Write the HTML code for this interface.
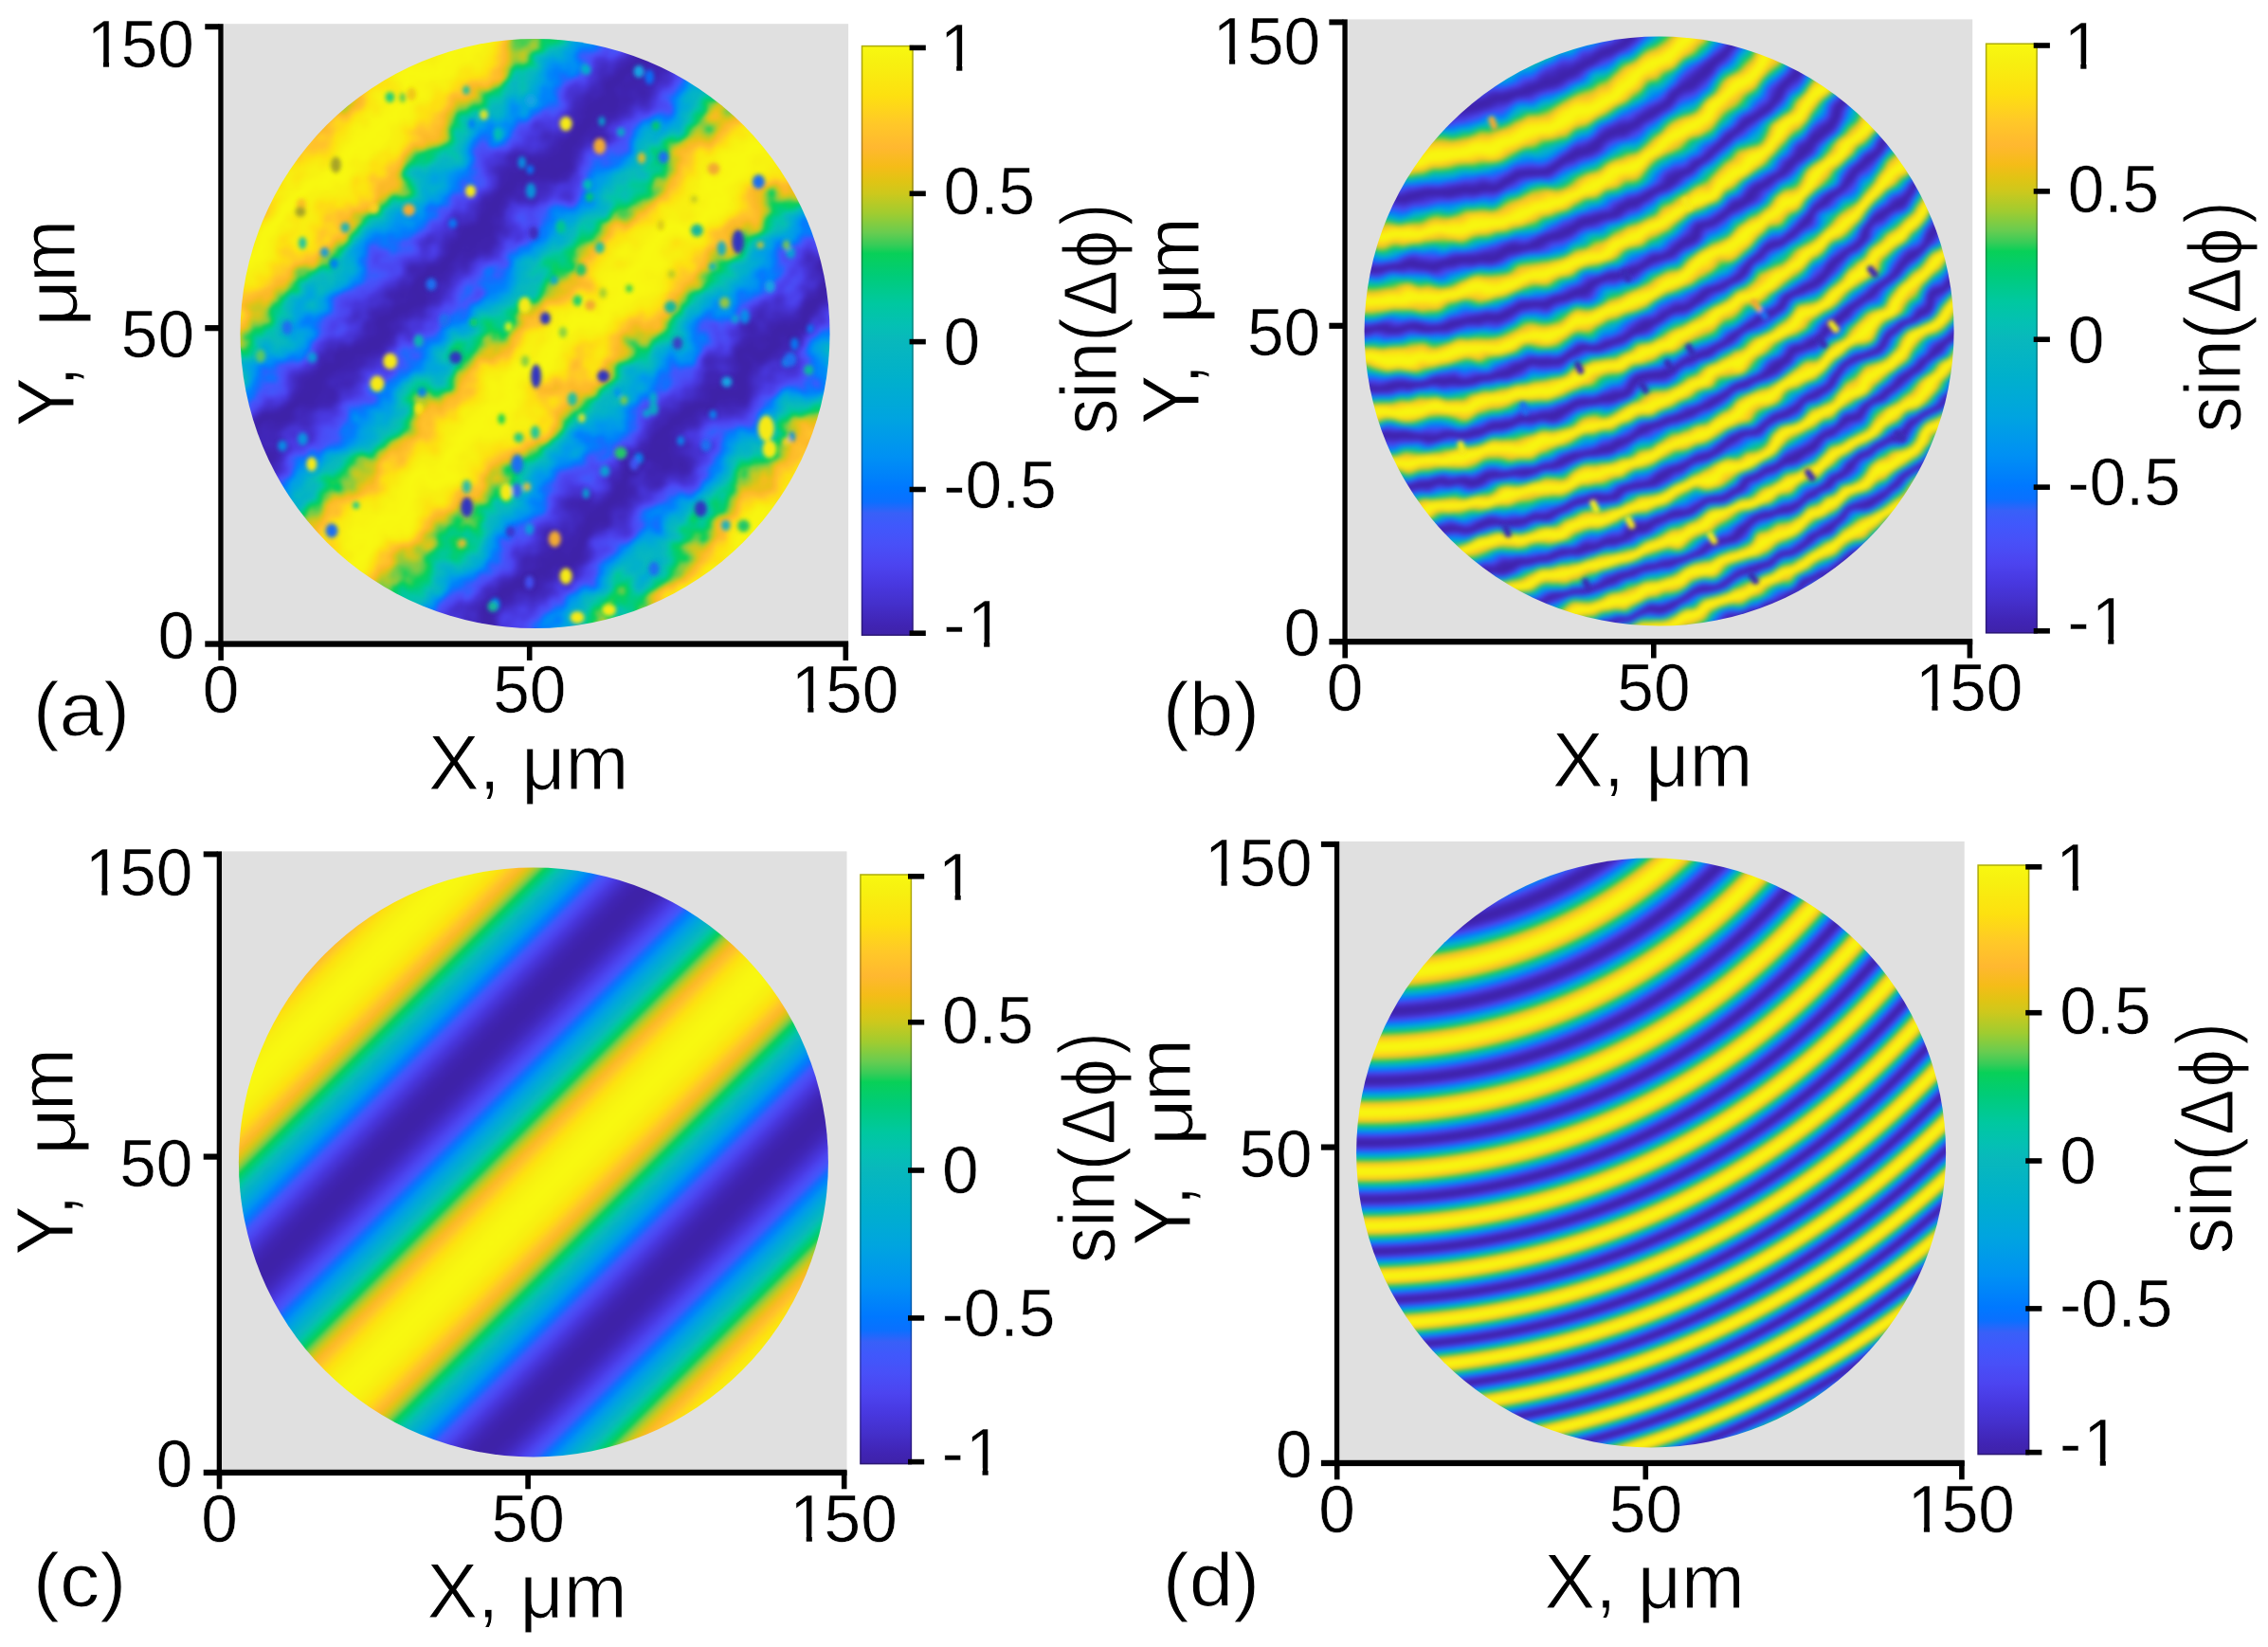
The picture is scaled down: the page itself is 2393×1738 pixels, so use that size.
<!DOCTYPE html>
<html><head><meta charset="utf-8"><title>fig</title>
<style>html,body{margin:0;padding:0;background:#fff;overflow:hidden}svg{display:block;filter:blur(0.6px)}text{font-family:'Liberation Sans', sans-serif;fill:#000;font-kerning:normal}</style>
</head><body>
<svg width="2393" height="1738" viewBox="0 0 2393 1738">
<defs>
<linearGradient id="cb" x1="0" y1="0" x2="0" y2="1"><stop offset="0.0000" stop-color="#f8f810"/><stop offset="0.0300" stop-color="#f7f010"/><stop offset="0.0850" stop-color="#fde010"/><stop offset="0.1325" stop-color="#ffc828"/><stop offset="0.1725" stop-color="#ffb830"/><stop offset="0.2050" stop-color="#f5bc18"/><stop offset="0.2300" stop-color="#e0c414"/><stop offset="0.2500" stop-color="#cec81c"/><stop offset="0.2850" stop-color="#a0cc30"/><stop offset="0.3175" stop-color="#68cc50"/><stop offset="0.3375" stop-color="#38cc58"/><stop offset="0.3525" stop-color="#08d058"/><stop offset="0.3900" stop-color="#00cc78"/><stop offset="0.4375" stop-color="#00c8a0"/><stop offset="0.4750" stop-color="#04c0b4"/><stop offset="0.5000" stop-color="#08b8bc"/><stop offset="0.5650" stop-color="#00b0cc"/><stop offset="0.6320" stop-color="#00a4e0"/><stop offset="0.6980" stop-color="#0090f4"/><stop offset="0.7500" stop-color="#0078ff"/><stop offset="0.7725" stop-color="#0a70ff"/><stop offset="0.7925" stop-color="#3860f8"/><stop offset="0.8150" stop-color="#4058fc"/><stop offset="0.8450" stop-color="#4850f8"/><stop offset="0.8800" stop-color="#4c44f0"/><stop offset="0.9130" stop-color="#4838e0"/><stop offset="0.9450" stop-color="#4430cc"/><stop offset="0.9800" stop-color="#4024b4"/><stop offset="1.0000" stop-color="#3e22a8"/></linearGradient>
<linearGradient id="ga" gradientUnits="userSpaceOnUse" x1="478.85" y1="478.85" x2="691.34" y2="691.34" spreadMethod="repeat"><stop offset="0.0000" stop-color="#f8f810"/><stop offset="0.0156" stop-color="#f8f710"/><stop offset="0.0312" stop-color="#f8f510"/><stop offset="0.0469" stop-color="#f7f210"/><stop offset="0.0625" stop-color="#f8ee10"/><stop offset="0.0781" stop-color="#fae810"/><stop offset="0.0938" stop-color="#fde010"/><stop offset="0.1094" stop-color="#fed21e"/><stop offset="0.1250" stop-color="#ffc22b"/><stop offset="0.1406" stop-color="#fcb928"/><stop offset="0.1562" stop-color="#e7c215"/><stop offset="0.1719" stop-color="#bbca24"/><stop offset="0.1875" stop-color="#77cc47"/><stop offset="0.2031" stop-color="#07d05a"/><stop offset="0.2188" stop-color="#00cb82"/><stop offset="0.2344" stop-color="#01c5a7"/><stop offset="0.2500" stop-color="#08b8bc"/><stop offset="0.2656" stop-color="#02b2c8"/><stop offset="0.2812" stop-color="#00aad6"/><stop offset="0.2969" stop-color="#00a0e4"/><stop offset="0.3125" stop-color="#0092f2"/><stop offset="0.3281" stop-color="#007ffc"/><stop offset="0.3438" stop-color="#166cfd"/><stop offset="0.3594" stop-color="#4157fc"/><stop offset="0.3750" stop-color="#494df6"/><stop offset="0.3906" stop-color="#4b42ed"/><stop offset="0.4062" stop-color="#4837de"/><stop offset="0.4219" stop-color="#4531cf"/><stop offset="0.4375" stop-color="#422ac0"/><stop offset="0.4531" stop-color="#4025b5"/><stop offset="0.4688" stop-color="#3f23ae"/><stop offset="0.4844" stop-color="#3e22a9"/><stop offset="0.5000" stop-color="#3e22a8"/><stop offset="0.5156" stop-color="#3e22a9"/><stop offset="0.5312" stop-color="#3f23ae"/><stop offset="0.5469" stop-color="#4025b5"/><stop offset="0.5625" stop-color="#422ac0"/><stop offset="0.5781" stop-color="#4531cf"/><stop offset="0.5938" stop-color="#4837de"/><stop offset="0.6094" stop-color="#4b42ed"/><stop offset="0.6250" stop-color="#494df6"/><stop offset="0.6406" stop-color="#4157fc"/><stop offset="0.6562" stop-color="#166cfd"/><stop offset="0.6719" stop-color="#007ffc"/><stop offset="0.6875" stop-color="#0092f2"/><stop offset="0.7031" stop-color="#00a0e4"/><stop offset="0.7188" stop-color="#00aad6"/><stop offset="0.7344" stop-color="#02b2c8"/><stop offset="0.7500" stop-color="#08b8bc"/><stop offset="0.7656" stop-color="#01c5a7"/><stop offset="0.7812" stop-color="#00cb82"/><stop offset="0.7969" stop-color="#07d05a"/><stop offset="0.8125" stop-color="#77cc47"/><stop offset="0.8281" stop-color="#bbca24"/><stop offset="0.8438" stop-color="#e7c215"/><stop offset="0.8594" stop-color="#fcb928"/><stop offset="0.8750" stop-color="#ffc22b"/><stop offset="0.8906" stop-color="#fed21e"/><stop offset="0.9062" stop-color="#fde010"/><stop offset="0.9219" stop-color="#fae810"/><stop offset="0.9375" stop-color="#f8ee10"/><stop offset="0.9531" stop-color="#f7f210"/><stop offset="0.9688" stop-color="#f8f510"/><stop offset="0.9844" stop-color="#f8f710"/><stop offset="1.0000" stop-color="#f8f810"/></linearGradient>
<linearGradient id="gc" gradientUnits="userSpaceOnUse" x1="915.25" y1="915.25" x2="1127.74" y2="1127.74" spreadMethod="repeat"><stop offset="0.0000" stop-color="#f8f810"/><stop offset="0.0156" stop-color="#f8f710"/><stop offset="0.0312" stop-color="#f8f510"/><stop offset="0.0469" stop-color="#f7f210"/><stop offset="0.0625" stop-color="#f8ee10"/><stop offset="0.0781" stop-color="#fae810"/><stop offset="0.0938" stop-color="#fde010"/><stop offset="0.1094" stop-color="#fed21e"/><stop offset="0.1250" stop-color="#ffc22b"/><stop offset="0.1406" stop-color="#fcb928"/><stop offset="0.1562" stop-color="#e7c215"/><stop offset="0.1719" stop-color="#bbca24"/><stop offset="0.1875" stop-color="#77cc47"/><stop offset="0.2031" stop-color="#07d05a"/><stop offset="0.2188" stop-color="#00cb82"/><stop offset="0.2344" stop-color="#01c5a7"/><stop offset="0.2500" stop-color="#08b8bc"/><stop offset="0.2656" stop-color="#02b2c8"/><stop offset="0.2812" stop-color="#00aad6"/><stop offset="0.2969" stop-color="#00a0e4"/><stop offset="0.3125" stop-color="#0092f2"/><stop offset="0.3281" stop-color="#007ffc"/><stop offset="0.3438" stop-color="#166cfd"/><stop offset="0.3594" stop-color="#4157fc"/><stop offset="0.3750" stop-color="#494df6"/><stop offset="0.3906" stop-color="#4b42ed"/><stop offset="0.4062" stop-color="#4837de"/><stop offset="0.4219" stop-color="#4531cf"/><stop offset="0.4375" stop-color="#422ac0"/><stop offset="0.4531" stop-color="#4025b5"/><stop offset="0.4688" stop-color="#3f23ae"/><stop offset="0.4844" stop-color="#3e22a9"/><stop offset="0.5000" stop-color="#3e22a8"/><stop offset="0.5156" stop-color="#3e22a9"/><stop offset="0.5312" stop-color="#3f23ae"/><stop offset="0.5469" stop-color="#4025b5"/><stop offset="0.5625" stop-color="#422ac0"/><stop offset="0.5781" stop-color="#4531cf"/><stop offset="0.5938" stop-color="#4837de"/><stop offset="0.6094" stop-color="#4b42ed"/><stop offset="0.6250" stop-color="#494df6"/><stop offset="0.6406" stop-color="#4157fc"/><stop offset="0.6562" stop-color="#166cfd"/><stop offset="0.6719" stop-color="#007ffc"/><stop offset="0.6875" stop-color="#0092f2"/><stop offset="0.7031" stop-color="#00a0e4"/><stop offset="0.7188" stop-color="#00aad6"/><stop offset="0.7344" stop-color="#02b2c8"/><stop offset="0.7500" stop-color="#08b8bc"/><stop offset="0.7656" stop-color="#01c5a7"/><stop offset="0.7812" stop-color="#00cb82"/><stop offset="0.7969" stop-color="#07d05a"/><stop offset="0.8125" stop-color="#77cc47"/><stop offset="0.8281" stop-color="#bbca24"/><stop offset="0.8438" stop-color="#e7c215"/><stop offset="0.8594" stop-color="#fcb928"/><stop offset="0.8750" stop-color="#ffc22b"/><stop offset="0.8906" stop-color="#fed21e"/><stop offset="0.9062" stop-color="#fde010"/><stop offset="0.9219" stop-color="#fae810"/><stop offset="0.9375" stop-color="#f8ee10"/><stop offset="0.9531" stop-color="#f7f210"/><stop offset="0.9688" stop-color="#f8f510"/><stop offset="0.9844" stop-color="#f8f710"/><stop offset="1.0000" stop-color="#f8f810"/></linearGradient>
<radialGradient id="gb" gradientUnits="userSpaceOnUse" cx="0" cy="0" r="377.912" gradientTransform="matrix(2.770944 -0.055626 -0.055626 2.925426 1473.071 -340.026)"><stop offset="0.38847" stop-color="#ffc22b"/><stop offset="0.39221" stop-color="#cec81c"/><stop offset="0.39591" stop-color="#04ce67"/><stop offset="0.39958" stop-color="#08b8bc"/><stop offset="0.40321" stop-color="#00a4df"/><stop offset="0.40681" stop-color="#0078ff"/><stop offset="0.41038" stop-color="#494df6"/><stop offset="0.41392" stop-color="#4533d3"/><stop offset="0.41743" stop-color="#4024b2"/><stop offset="0.42091" stop-color="#3e22a8"/><stop offset="0.42436" stop-color="#4024b2"/><stop offset="0.42779" stop-color="#4533d3"/><stop offset="0.43118" stop-color="#494df6"/><stop offset="0.43455" stop-color="#0078ff"/><stop offset="0.43790" stop-color="#00a4df"/><stop offset="0.44121" stop-color="#08b8bc"/><stop offset="0.44451" stop-color="#04ce67"/><stop offset="0.44778" stop-color="#cec81c"/><stop offset="0.45102" stop-color="#ffc22b"/><stop offset="0.45425" stop-color="#fbe510"/><stop offset="0.45745" stop-color="#f7f310"/><stop offset="0.46062" stop-color="#f8f810"/><stop offset="0.46378" stop-color="#f7f310"/><stop offset="0.46692" stop-color="#fbe510"/><stop offset="0.47003" stop-color="#ffc22b"/><stop offset="0.47312" stop-color="#cec81c"/><stop offset="0.47620" stop-color="#04ce67"/><stop offset="0.47925" stop-color="#08b8bc"/><stop offset="0.48228" stop-color="#00a4df"/><stop offset="0.48530" stop-color="#0078ff"/><stop offset="0.48830" stop-color="#494df6"/><stop offset="0.49127" stop-color="#4533d3"/><stop offset="0.49423" stop-color="#4024b2"/><stop offset="0.49718" stop-color="#3e22a8"/><stop offset="0.50010" stop-color="#4024b2"/><stop offset="0.50301" stop-color="#4533d3"/><stop offset="0.50590" stop-color="#494df6"/><stop offset="0.50878" stop-color="#0078ff"/><stop offset="0.51164" stop-color="#00a4df"/><stop offset="0.51448" stop-color="#08b8bc"/><stop offset="0.51731" stop-color="#04ce67"/><stop offset="0.52012" stop-color="#cec81c"/><stop offset="0.52292" stop-color="#ffc22b"/><stop offset="0.52570" stop-color="#fbe510"/><stop offset="0.52847" stop-color="#f7f310"/><stop offset="0.53122" stop-color="#f8f810"/><stop offset="0.53396" stop-color="#f7f310"/><stop offset="0.53668" stop-color="#fbe510"/><stop offset="0.53940" stop-color="#ffc22b"/><stop offset="0.54209" stop-color="#cec81c"/><stop offset="0.54478" stop-color="#04ce67"/><stop offset="0.54745" stop-color="#08b8bc"/><stop offset="0.55011" stop-color="#00a4df"/><stop offset="0.55275" stop-color="#0078ff"/><stop offset="0.55538" stop-color="#494df6"/><stop offset="0.55800" stop-color="#4533d3"/><stop offset="0.56061" stop-color="#4024b2"/><stop offset="0.56321" stop-color="#3e22a8"/><stop offset="0.56579" stop-color="#4024b2"/><stop offset="0.56837" stop-color="#4533d3"/><stop offset="0.57093" stop-color="#494df6"/><stop offset="0.57348" stop-color="#0078ff"/><stop offset="0.57601" stop-color="#00a4df"/><stop offset="0.57854" stop-color="#08b8bc"/><stop offset="0.58106" stop-color="#04ce67"/><stop offset="0.58356" stop-color="#cec81c"/><stop offset="0.58606" stop-color="#ffc22b"/><stop offset="0.58854" stop-color="#fbe510"/><stop offset="0.59101" stop-color="#f7f310"/><stop offset="0.59348" stop-color="#f8f810"/><stop offset="0.59593" stop-color="#f7f310"/><stop offset="0.59837" stop-color="#fbe510"/><stop offset="0.60080" stop-color="#ffc22b"/><stop offset="0.60323" stop-color="#cec81c"/><stop offset="0.60564" stop-color="#04ce67"/><stop offset="0.60805" stop-color="#08b8bc"/><stop offset="0.61044" stop-color="#00a4df"/><stop offset="0.61282" stop-color="#0078ff"/><stop offset="0.61520" stop-color="#494df6"/><stop offset="0.61757" stop-color="#4533d3"/><stop offset="0.61992" stop-color="#4024b2"/><stop offset="0.62227" stop-color="#3e22a8"/><stop offset="0.62461" stop-color="#4024b2"/><stop offset="0.62694" stop-color="#4533d3"/><stop offset="0.62927" stop-color="#494df6"/><stop offset="0.63158" stop-color="#0078ff"/><stop offset="0.63389" stop-color="#00a4df"/><stop offset="0.63618" stop-color="#08b8bc"/><stop offset="0.63847" stop-color="#04ce67"/><stop offset="0.64075" stop-color="#cec81c"/><stop offset="0.64303" stop-color="#ffc22b"/><stop offset="0.64529" stop-color="#fbe510"/><stop offset="0.64755" stop-color="#f7f310"/><stop offset="0.64980" stop-color="#f8f810"/><stop offset="0.65204" stop-color="#f7f310"/><stop offset="0.65427" stop-color="#fbe510"/><stop offset="0.65650" stop-color="#ffc22b"/><stop offset="0.65871" stop-color="#cec81c"/><stop offset="0.66092" stop-color="#04ce67"/><stop offset="0.66313" stop-color="#08b8bc"/><stop offset="0.66532" stop-color="#00a4df"/><stop offset="0.66751" stop-color="#0078ff"/><stop offset="0.66969" stop-color="#494df6"/><stop offset="0.67187" stop-color="#4533d3"/><stop offset="0.67404" stop-color="#4024b2"/><stop offset="0.67620" stop-color="#3e22a8"/><stop offset="0.67835" stop-color="#4024b2"/><stop offset="0.68050" stop-color="#4533d3"/><stop offset="0.68264" stop-color="#494df6"/><stop offset="0.68477" stop-color="#0078ff"/><stop offset="0.68690" stop-color="#00a4df"/><stop offset="0.68902" stop-color="#08b8bc"/><stop offset="0.69113" stop-color="#04ce67"/><stop offset="0.69324" stop-color="#cec81c"/><stop offset="0.69534" stop-color="#ffc22b"/><stop offset="0.69744" stop-color="#fbe510"/><stop offset="0.69953" stop-color="#f7f310"/><stop offset="0.70161" stop-color="#f8f810"/><stop offset="0.70368" stop-color="#f7f310"/><stop offset="0.70575" stop-color="#fbe510"/><stop offset="0.70782" stop-color="#ffc22b"/><stop offset="0.70988" stop-color="#cec81c"/><stop offset="0.71193" stop-color="#04ce67"/><stop offset="0.71397" stop-color="#08b8bc"/><stop offset="0.71601" stop-color="#00a4df"/><stop offset="0.71805" stop-color="#0078ff"/><stop offset="0.72008" stop-color="#494df6"/><stop offset="0.72210" stop-color="#4533d3"/><stop offset="0.72412" stop-color="#4024b2"/><stop offset="0.72613" stop-color="#3e22a8"/><stop offset="0.72813" stop-color="#4024b2"/><stop offset="0.73014" stop-color="#4533d3"/><stop offset="0.73213" stop-color="#494df6"/><stop offset="0.73412" stop-color="#0078ff"/><stop offset="0.73610" stop-color="#00a4df"/><stop offset="0.73808" stop-color="#08b8bc"/><stop offset="0.74006" stop-color="#04ce67"/><stop offset="0.74203" stop-color="#cec81c"/><stop offset="0.74399" stop-color="#ffc22b"/><stop offset="0.74595" stop-color="#fbe510"/><stop offset="0.74790" stop-color="#f7f310"/><stop offset="0.74985" stop-color="#f8f810"/><stop offset="0.75179" stop-color="#f7f310"/><stop offset="0.75373" stop-color="#fbe510"/><stop offset="0.75566" stop-color="#ffc22b"/><stop offset="0.75759" stop-color="#cec81c"/><stop offset="0.75951" stop-color="#04ce67"/><stop offset="0.76143" stop-color="#08b8bc"/><stop offset="0.76334" stop-color="#00a4df"/><stop offset="0.76525" stop-color="#0078ff"/><stop offset="0.76716" stop-color="#494df6"/><stop offset="0.76906" stop-color="#4533d3"/><stop offset="0.77095" stop-color="#4024b2"/><stop offset="0.77284" stop-color="#3e22a8"/><stop offset="0.77473" stop-color="#4024b2"/><stop offset="0.77661" stop-color="#4533d3"/><stop offset="0.77848" stop-color="#494df6"/><stop offset="0.78035" stop-color="#0078ff"/><stop offset="0.78222" stop-color="#00a4df"/><stop offset="0.78408" stop-color="#08b8bc"/><stop offset="0.78594" stop-color="#04ce67"/><stop offset="0.78780" stop-color="#cec81c"/><stop offset="0.78965" stop-color="#ffc22b"/><stop offset="0.79149" stop-color="#fbe510"/><stop offset="0.79333" stop-color="#f7f310"/><stop offset="0.79517" stop-color="#f8f810"/><stop offset="0.79700" stop-color="#f7f310"/><stop offset="0.79883" stop-color="#fbe510"/><stop offset="0.80065" stop-color="#ffc22b"/><stop offset="0.80247" stop-color="#cec81c"/><stop offset="0.80429" stop-color="#04ce67"/><stop offset="0.80610" stop-color="#08b8bc"/><stop offset="0.80791" stop-color="#00a4df"/><stop offset="0.80971" stop-color="#0078ff"/><stop offset="0.81151" stop-color="#494df6"/><stop offset="0.81331" stop-color="#4533d3"/><stop offset="0.81510" stop-color="#4024b2"/><stop offset="0.81689" stop-color="#3e22a8"/><stop offset="0.81867" stop-color="#4024b2"/><stop offset="0.82045" stop-color="#4533d3"/><stop offset="0.82223" stop-color="#494df6"/><stop offset="0.82400" stop-color="#0078ff"/><stop offset="0.82577" stop-color="#00a4df"/><stop offset="0.82753" stop-color="#08b8bc"/><stop offset="0.82929" stop-color="#04ce67"/><stop offset="0.83105" stop-color="#cec81c"/><stop offset="0.83280" stop-color="#ffc22b"/><stop offset="0.83455" stop-color="#fbe510"/><stop offset="0.83630" stop-color="#f7f310"/><stop offset="0.83804" stop-color="#f8f810"/><stop offset="0.83978" stop-color="#f7f310"/><stop offset="0.84151" stop-color="#fbe510"/><stop offset="0.84325" stop-color="#ffc22b"/><stop offset="0.84497" stop-color="#cec81c"/><stop offset="0.84670" stop-color="#04ce67"/><stop offset="0.84842" stop-color="#08b8bc"/><stop offset="0.85014" stop-color="#00a4df"/><stop offset="0.85185" stop-color="#0078ff"/><stop offset="0.85356" stop-color="#494df6"/><stop offset="0.85527" stop-color="#4533d3"/><stop offset="0.85697" stop-color="#4024b2"/><stop offset="0.85867" stop-color="#3e22a8"/><stop offset="0.86037" stop-color="#4024b2"/><stop offset="0.86207" stop-color="#4533d3"/><stop offset="0.86376" stop-color="#494df6"/><stop offset="0.86544" stop-color="#0078ff"/><stop offset="0.86713" stop-color="#00a4df"/><stop offset="0.86881" stop-color="#08b8bc"/><stop offset="0.87049" stop-color="#04ce67"/><stop offset="0.87216" stop-color="#cec81c"/><stop offset="0.87383" stop-color="#ffc22b"/><stop offset="0.87550" stop-color="#fbe510"/><stop offset="0.87716" stop-color="#f7f310"/><stop offset="0.87882" stop-color="#f8f810"/><stop offset="0.88048" stop-color="#f7f310"/><stop offset="0.88214" stop-color="#fbe510"/><stop offset="0.88379" stop-color="#ffc22b"/><stop offset="0.88544" stop-color="#cec81c"/><stop offset="0.88708" stop-color="#04ce67"/><stop offset="0.88873" stop-color="#08b8bc"/><stop offset="0.89037" stop-color="#00a4df"/><stop offset="0.89200" stop-color="#0078ff"/><stop offset="0.89364" stop-color="#494df6"/><stop offset="0.89527" stop-color="#4533d3"/><stop offset="0.89690" stop-color="#4024b2"/><stop offset="0.89852" stop-color="#3e22a8"/><stop offset="0.90014" stop-color="#4024b2"/><stop offset="0.90176" stop-color="#4533d3"/><stop offset="0.90338" stop-color="#494df6"/><stop offset="0.90499" stop-color="#0078ff"/><stop offset="0.90660" stop-color="#00a4df"/><stop offset="0.90821" stop-color="#08b8bc"/><stop offset="0.90982" stop-color="#04ce67"/><stop offset="0.91142" stop-color="#cec81c"/><stop offset="0.91302" stop-color="#ffc22b"/><stop offset="0.91461" stop-color="#fbe510"/><stop offset="0.91621" stop-color="#f7f310"/><stop offset="0.91780" stop-color="#f8f810"/><stop offset="0.91938" stop-color="#f7f310"/><stop offset="0.92097" stop-color="#fbe510"/><stop offset="0.92255" stop-color="#ffc22b"/><stop offset="0.92413" stop-color="#cec81c"/><stop offset="0.92571" stop-color="#04ce67"/><stop offset="0.92728" stop-color="#08b8bc"/><stop offset="0.92886" stop-color="#00a4df"/><stop offset="0.93043" stop-color="#0078ff"/><stop offset="0.93199" stop-color="#494df6"/><stop offset="0.93356" stop-color="#4533d3"/><stop offset="0.93512" stop-color="#4024b2"/><stop offset="0.93668" stop-color="#3e22a8"/><stop offset="0.93823" stop-color="#4024b2"/><stop offset="0.93979" stop-color="#4533d3"/><stop offset="0.94134" stop-color="#494df6"/><stop offset="0.94288" stop-color="#0078ff"/><stop offset="0.94443" stop-color="#00a4df"/><stop offset="0.94597" stop-color="#08b8bc"/><stop offset="0.94751" stop-color="#04ce67"/><stop offset="0.94905" stop-color="#cec81c"/><stop offset="0.95059" stop-color="#ffc22b"/><stop offset="0.95212" stop-color="#fbe510"/><stop offset="0.95365" stop-color="#f7f310"/><stop offset="0.95518" stop-color="#f8f810"/><stop offset="0.95671" stop-color="#f7f310"/><stop offset="0.95823" stop-color="#fbe510"/><stop offset="0.95975" stop-color="#ffc22b"/><stop offset="0.96127" stop-color="#cec81c"/><stop offset="0.96279" stop-color="#04ce67"/><stop offset="0.96430" stop-color="#08b8bc"/><stop offset="0.96581" stop-color="#00a4df"/><stop offset="0.96732" stop-color="#0078ff"/><stop offset="0.96883" stop-color="#494df6"/><stop offset="0.97033" stop-color="#4533d3"/><stop offset="0.97183" stop-color="#4024b2"/><stop offset="0.97333" stop-color="#3e22a8"/><stop offset="0.97483" stop-color="#4024b2"/><stop offset="0.97633" stop-color="#4533d3"/><stop offset="0.97782" stop-color="#494df6"/><stop offset="0.97931" stop-color="#0078ff"/><stop offset="0.98080" stop-color="#00a4df"/><stop offset="0.98229" stop-color="#08b8bc"/><stop offset="0.98377" stop-color="#04ce67"/><stop offset="0.98525" stop-color="#cec81c"/><stop offset="0.98673" stop-color="#ffc22b"/><stop offset="0.98821" stop-color="#fbe510"/><stop offset="0.98968" stop-color="#f7f310"/><stop offset="0.99116" stop-color="#f8f810"/><stop offset="0.99263" stop-color="#f7f310"/><stop offset="0.99410" stop-color="#fbe510"/><stop offset="0.99556" stop-color="#ffc22b"/><stop offset="0.99703" stop-color="#cec81c"/><stop offset="0.99849" stop-color="#04ce67"/><stop offset="0.99995" stop-color="#08b8bc"/><stop offset="1.00000" stop-color="#00a4df"/></radialGradient>
<radialGradient id="gd" gradientUnits="userSpaceOnUse" cx="0" cy="0" r="377.912" gradientTransform="matrix(2.770944 -0.055626 -0.055626 2.925426 1467.571 517.774)"><stop offset="0.38847" stop-color="#ffc22b"/><stop offset="0.39221" stop-color="#cec81c"/><stop offset="0.39591" stop-color="#04ce67"/><stop offset="0.39958" stop-color="#08b8bc"/><stop offset="0.40321" stop-color="#00a4df"/><stop offset="0.40681" stop-color="#0078ff"/><stop offset="0.41038" stop-color="#494df6"/><stop offset="0.41392" stop-color="#4533d3"/><stop offset="0.41743" stop-color="#4024b2"/><stop offset="0.42091" stop-color="#3e22a8"/><stop offset="0.42436" stop-color="#4024b2"/><stop offset="0.42779" stop-color="#4533d3"/><stop offset="0.43118" stop-color="#494df6"/><stop offset="0.43455" stop-color="#0078ff"/><stop offset="0.43790" stop-color="#00a4df"/><stop offset="0.44121" stop-color="#08b8bc"/><stop offset="0.44451" stop-color="#04ce67"/><stop offset="0.44778" stop-color="#cec81c"/><stop offset="0.45102" stop-color="#ffc22b"/><stop offset="0.45425" stop-color="#fbe510"/><stop offset="0.45745" stop-color="#f7f310"/><stop offset="0.46062" stop-color="#f8f810"/><stop offset="0.46378" stop-color="#f7f310"/><stop offset="0.46692" stop-color="#fbe510"/><stop offset="0.47003" stop-color="#ffc22b"/><stop offset="0.47312" stop-color="#cec81c"/><stop offset="0.47620" stop-color="#04ce67"/><stop offset="0.47925" stop-color="#08b8bc"/><stop offset="0.48228" stop-color="#00a4df"/><stop offset="0.48530" stop-color="#0078ff"/><stop offset="0.48830" stop-color="#494df6"/><stop offset="0.49127" stop-color="#4533d3"/><stop offset="0.49423" stop-color="#4024b2"/><stop offset="0.49718" stop-color="#3e22a8"/><stop offset="0.50010" stop-color="#4024b2"/><stop offset="0.50301" stop-color="#4533d3"/><stop offset="0.50590" stop-color="#494df6"/><stop offset="0.50878" stop-color="#0078ff"/><stop offset="0.51164" stop-color="#00a4df"/><stop offset="0.51448" stop-color="#08b8bc"/><stop offset="0.51731" stop-color="#04ce67"/><stop offset="0.52012" stop-color="#cec81c"/><stop offset="0.52292" stop-color="#ffc22b"/><stop offset="0.52570" stop-color="#fbe510"/><stop offset="0.52847" stop-color="#f7f310"/><stop offset="0.53122" stop-color="#f8f810"/><stop offset="0.53396" stop-color="#f7f310"/><stop offset="0.53668" stop-color="#fbe510"/><stop offset="0.53940" stop-color="#ffc22b"/><stop offset="0.54209" stop-color="#cec81c"/><stop offset="0.54478" stop-color="#04ce67"/><stop offset="0.54745" stop-color="#08b8bc"/><stop offset="0.55011" stop-color="#00a4df"/><stop offset="0.55275" stop-color="#0078ff"/><stop offset="0.55538" stop-color="#494df6"/><stop offset="0.55800" stop-color="#4533d3"/><stop offset="0.56061" stop-color="#4024b2"/><stop offset="0.56321" stop-color="#3e22a8"/><stop offset="0.56579" stop-color="#4024b2"/><stop offset="0.56837" stop-color="#4533d3"/><stop offset="0.57093" stop-color="#494df6"/><stop offset="0.57348" stop-color="#0078ff"/><stop offset="0.57601" stop-color="#00a4df"/><stop offset="0.57854" stop-color="#08b8bc"/><stop offset="0.58106" stop-color="#04ce67"/><stop offset="0.58356" stop-color="#cec81c"/><stop offset="0.58606" stop-color="#ffc22b"/><stop offset="0.58854" stop-color="#fbe510"/><stop offset="0.59101" stop-color="#f7f310"/><stop offset="0.59348" stop-color="#f8f810"/><stop offset="0.59593" stop-color="#f7f310"/><stop offset="0.59837" stop-color="#fbe510"/><stop offset="0.60080" stop-color="#ffc22b"/><stop offset="0.60323" stop-color="#cec81c"/><stop offset="0.60564" stop-color="#04ce67"/><stop offset="0.60805" stop-color="#08b8bc"/><stop offset="0.61044" stop-color="#00a4df"/><stop offset="0.61282" stop-color="#0078ff"/><stop offset="0.61520" stop-color="#494df6"/><stop offset="0.61757" stop-color="#4533d3"/><stop offset="0.61992" stop-color="#4024b2"/><stop offset="0.62227" stop-color="#3e22a8"/><stop offset="0.62461" stop-color="#4024b2"/><stop offset="0.62694" stop-color="#4533d3"/><stop offset="0.62927" stop-color="#494df6"/><stop offset="0.63158" stop-color="#0078ff"/><stop offset="0.63389" stop-color="#00a4df"/><stop offset="0.63618" stop-color="#08b8bc"/><stop offset="0.63847" stop-color="#04ce67"/><stop offset="0.64075" stop-color="#cec81c"/><stop offset="0.64303" stop-color="#ffc22b"/><stop offset="0.64529" stop-color="#fbe510"/><stop offset="0.64755" stop-color="#f7f310"/><stop offset="0.64980" stop-color="#f8f810"/><stop offset="0.65204" stop-color="#f7f310"/><stop offset="0.65427" stop-color="#fbe510"/><stop offset="0.65650" stop-color="#ffc22b"/><stop offset="0.65871" stop-color="#cec81c"/><stop offset="0.66092" stop-color="#04ce67"/><stop offset="0.66313" stop-color="#08b8bc"/><stop offset="0.66532" stop-color="#00a4df"/><stop offset="0.66751" stop-color="#0078ff"/><stop offset="0.66969" stop-color="#494df6"/><stop offset="0.67187" stop-color="#4533d3"/><stop offset="0.67404" stop-color="#4024b2"/><stop offset="0.67620" stop-color="#3e22a8"/><stop offset="0.67835" stop-color="#4024b2"/><stop offset="0.68050" stop-color="#4533d3"/><stop offset="0.68264" stop-color="#494df6"/><stop offset="0.68477" stop-color="#0078ff"/><stop offset="0.68690" stop-color="#00a4df"/><stop offset="0.68902" stop-color="#08b8bc"/><stop offset="0.69113" stop-color="#04ce67"/><stop offset="0.69324" stop-color="#cec81c"/><stop offset="0.69534" stop-color="#ffc22b"/><stop offset="0.69744" stop-color="#fbe510"/><stop offset="0.69953" stop-color="#f7f310"/><stop offset="0.70161" stop-color="#f8f810"/><stop offset="0.70368" stop-color="#f7f310"/><stop offset="0.70575" stop-color="#fbe510"/><stop offset="0.70782" stop-color="#ffc22b"/><stop offset="0.70988" stop-color="#cec81c"/><stop offset="0.71193" stop-color="#04ce67"/><stop offset="0.71397" stop-color="#08b8bc"/><stop offset="0.71601" stop-color="#00a4df"/><stop offset="0.71805" stop-color="#0078ff"/><stop offset="0.72008" stop-color="#494df6"/><stop offset="0.72210" stop-color="#4533d3"/><stop offset="0.72412" stop-color="#4024b2"/><stop offset="0.72613" stop-color="#3e22a8"/><stop offset="0.72813" stop-color="#4024b2"/><stop offset="0.73014" stop-color="#4533d3"/><stop offset="0.73213" stop-color="#494df6"/><stop offset="0.73412" stop-color="#0078ff"/><stop offset="0.73610" stop-color="#00a4df"/><stop offset="0.73808" stop-color="#08b8bc"/><stop offset="0.74006" stop-color="#04ce67"/><stop offset="0.74203" stop-color="#cec81c"/><stop offset="0.74399" stop-color="#ffc22b"/><stop offset="0.74595" stop-color="#fbe510"/><stop offset="0.74790" stop-color="#f7f310"/><stop offset="0.74985" stop-color="#f8f810"/><stop offset="0.75179" stop-color="#f7f310"/><stop offset="0.75373" stop-color="#fbe510"/><stop offset="0.75566" stop-color="#ffc22b"/><stop offset="0.75759" stop-color="#cec81c"/><stop offset="0.75951" stop-color="#04ce67"/><stop offset="0.76143" stop-color="#08b8bc"/><stop offset="0.76334" stop-color="#00a4df"/><stop offset="0.76525" stop-color="#0078ff"/><stop offset="0.76716" stop-color="#494df6"/><stop offset="0.76906" stop-color="#4533d3"/><stop offset="0.77095" stop-color="#4024b2"/><stop offset="0.77284" stop-color="#3e22a8"/><stop offset="0.77473" stop-color="#4024b2"/><stop offset="0.77661" stop-color="#4533d3"/><stop offset="0.77848" stop-color="#494df6"/><stop offset="0.78035" stop-color="#0078ff"/><stop offset="0.78222" stop-color="#00a4df"/><stop offset="0.78408" stop-color="#08b8bc"/><stop offset="0.78594" stop-color="#04ce67"/><stop offset="0.78780" stop-color="#cec81c"/><stop offset="0.78965" stop-color="#ffc22b"/><stop offset="0.79149" stop-color="#fbe510"/><stop offset="0.79333" stop-color="#f7f310"/><stop offset="0.79517" stop-color="#f8f810"/><stop offset="0.79700" stop-color="#f7f310"/><stop offset="0.79883" stop-color="#fbe510"/><stop offset="0.80065" stop-color="#ffc22b"/><stop offset="0.80247" stop-color="#cec81c"/><stop offset="0.80429" stop-color="#04ce67"/><stop offset="0.80610" stop-color="#08b8bc"/><stop offset="0.80791" stop-color="#00a4df"/><stop offset="0.80971" stop-color="#0078ff"/><stop offset="0.81151" stop-color="#494df6"/><stop offset="0.81331" stop-color="#4533d3"/><stop offset="0.81510" stop-color="#4024b2"/><stop offset="0.81689" stop-color="#3e22a8"/><stop offset="0.81867" stop-color="#4024b2"/><stop offset="0.82045" stop-color="#4533d3"/><stop offset="0.82223" stop-color="#494df6"/><stop offset="0.82400" stop-color="#0078ff"/><stop offset="0.82577" stop-color="#00a4df"/><stop offset="0.82753" stop-color="#08b8bc"/><stop offset="0.82929" stop-color="#04ce67"/><stop offset="0.83105" stop-color="#cec81c"/><stop offset="0.83280" stop-color="#ffc22b"/><stop offset="0.83455" stop-color="#fbe510"/><stop offset="0.83630" stop-color="#f7f310"/><stop offset="0.83804" stop-color="#f8f810"/><stop offset="0.83978" stop-color="#f7f310"/><stop offset="0.84151" stop-color="#fbe510"/><stop offset="0.84325" stop-color="#ffc22b"/><stop offset="0.84497" stop-color="#cec81c"/><stop offset="0.84670" stop-color="#04ce67"/><stop offset="0.84842" stop-color="#08b8bc"/><stop offset="0.85014" stop-color="#00a4df"/><stop offset="0.85185" stop-color="#0078ff"/><stop offset="0.85356" stop-color="#494df6"/><stop offset="0.85527" stop-color="#4533d3"/><stop offset="0.85697" stop-color="#4024b2"/><stop offset="0.85867" stop-color="#3e22a8"/><stop offset="0.86037" stop-color="#4024b2"/><stop offset="0.86207" stop-color="#4533d3"/><stop offset="0.86376" stop-color="#494df6"/><stop offset="0.86544" stop-color="#0078ff"/><stop offset="0.86713" stop-color="#00a4df"/><stop offset="0.86881" stop-color="#08b8bc"/><stop offset="0.87049" stop-color="#04ce67"/><stop offset="0.87216" stop-color="#cec81c"/><stop offset="0.87383" stop-color="#ffc22b"/><stop offset="0.87550" stop-color="#fbe510"/><stop offset="0.87716" stop-color="#f7f310"/><stop offset="0.87882" stop-color="#f8f810"/><stop offset="0.88048" stop-color="#f7f310"/><stop offset="0.88214" stop-color="#fbe510"/><stop offset="0.88379" stop-color="#ffc22b"/><stop offset="0.88544" stop-color="#cec81c"/><stop offset="0.88708" stop-color="#04ce67"/><stop offset="0.88873" stop-color="#08b8bc"/><stop offset="0.89037" stop-color="#00a4df"/><stop offset="0.89200" stop-color="#0078ff"/><stop offset="0.89364" stop-color="#494df6"/><stop offset="0.89527" stop-color="#4533d3"/><stop offset="0.89690" stop-color="#4024b2"/><stop offset="0.89852" stop-color="#3e22a8"/><stop offset="0.90014" stop-color="#4024b2"/><stop offset="0.90176" stop-color="#4533d3"/><stop offset="0.90338" stop-color="#494df6"/><stop offset="0.90499" stop-color="#0078ff"/><stop offset="0.90660" stop-color="#00a4df"/><stop offset="0.90821" stop-color="#08b8bc"/><stop offset="0.90982" stop-color="#04ce67"/><stop offset="0.91142" stop-color="#cec81c"/><stop offset="0.91302" stop-color="#ffc22b"/><stop offset="0.91461" stop-color="#fbe510"/><stop offset="0.91621" stop-color="#f7f310"/><stop offset="0.91780" stop-color="#f8f810"/><stop offset="0.91938" stop-color="#f7f310"/><stop offset="0.92097" stop-color="#fbe510"/><stop offset="0.92255" stop-color="#ffc22b"/><stop offset="0.92413" stop-color="#cec81c"/><stop offset="0.92571" stop-color="#04ce67"/><stop offset="0.92728" stop-color="#08b8bc"/><stop offset="0.92886" stop-color="#00a4df"/><stop offset="0.93043" stop-color="#0078ff"/><stop offset="0.93199" stop-color="#494df6"/><stop offset="0.93356" stop-color="#4533d3"/><stop offset="0.93512" stop-color="#4024b2"/><stop offset="0.93668" stop-color="#3e22a8"/><stop offset="0.93823" stop-color="#4024b2"/><stop offset="0.93979" stop-color="#4533d3"/><stop offset="0.94134" stop-color="#494df6"/><stop offset="0.94288" stop-color="#0078ff"/><stop offset="0.94443" stop-color="#00a4df"/><stop offset="0.94597" stop-color="#08b8bc"/><stop offset="0.94751" stop-color="#04ce67"/><stop offset="0.94905" stop-color="#cec81c"/><stop offset="0.95059" stop-color="#ffc22b"/><stop offset="0.95212" stop-color="#fbe510"/><stop offset="0.95365" stop-color="#f7f310"/><stop offset="0.95518" stop-color="#f8f810"/><stop offset="0.95671" stop-color="#f7f310"/><stop offset="0.95823" stop-color="#fbe510"/><stop offset="0.95975" stop-color="#ffc22b"/><stop offset="0.96127" stop-color="#cec81c"/><stop offset="0.96279" stop-color="#04ce67"/><stop offset="0.96430" stop-color="#08b8bc"/><stop offset="0.96581" stop-color="#00a4df"/><stop offset="0.96732" stop-color="#0078ff"/><stop offset="0.96883" stop-color="#494df6"/><stop offset="0.97033" stop-color="#4533d3"/><stop offset="0.97183" stop-color="#4024b2"/><stop offset="0.97333" stop-color="#3e22a8"/><stop offset="0.97483" stop-color="#4024b2"/><stop offset="0.97633" stop-color="#4533d3"/><stop offset="0.97782" stop-color="#494df6"/><stop offset="0.97931" stop-color="#0078ff"/><stop offset="0.98080" stop-color="#00a4df"/><stop offset="0.98229" stop-color="#08b8bc"/><stop offset="0.98377" stop-color="#04ce67"/><stop offset="0.98525" stop-color="#cec81c"/><stop offset="0.98673" stop-color="#ffc22b"/><stop offset="0.98821" stop-color="#fbe510"/><stop offset="0.98968" stop-color="#f7f310"/><stop offset="0.99116" stop-color="#f8f810"/><stop offset="0.99263" stop-color="#f7f310"/><stop offset="0.99410" stop-color="#fbe510"/><stop offset="0.99556" stop-color="#ffc22b"/><stop offset="0.99703" stop-color="#cec81c"/><stop offset="0.99849" stop-color="#04ce67"/><stop offset="0.99995" stop-color="#08b8bc"/><stop offset="1.00000" stop-color="#00a4df"/></radialGradient>
<clipPath id="ka"><circle cx="564.5" cy="352" r="311"/></clipPath>
<clipPath id="kb"><circle cx="1750.6" cy="349.6" r="311"/></clipPath>
<clipPath id="kc"><circle cx="562.9" cy="1226.4" r="311"/></clipPath>
<clipPath id="kd"><circle cx="1742.1" cy="1216.4" r="311"/></clipPath>
<filter id="na" x="0" y="0" width="1" height="1" color-interpolation-filters="sRGB"><feTurbulence type="fractalNoise" baseFrequency="0.021" numOctaves="3" seed="11" result="t"/><feDisplacementMap in="SourceGraphic" in2="t" scale="62" xChannelSelector="R" yChannelSelector="G"/><feGaussianBlur stdDeviation="1.6"/></filter>
<filter id="nb" x="0" y="0" width="1" height="1" color-interpolation-filters="sRGB"><feTurbulence type="fractalNoise" baseFrequency="0.032" numOctaves="2" seed="3" result="t"/><feDisplacementMap in="SourceGraphic" in2="t" scale="16" xChannelSelector="R" yChannelSelector="G"/><feGaussianBlur stdDeviation="2.5"/></filter>
<filter id="nc" x="-0.02" y="-0.02" width="1.04" height="1.04" color-interpolation-filters="sRGB"><feGaussianBlur stdDeviation="1.0"/></filter>
<filter id="nd" x="-0.02" y="-0.02" width="1.04" height="1.04" color-interpolation-filters="sRGB"><feGaussianBlur stdDeviation="2.2"/></filter>
<filter id="bl" x="-1" y="-1" width="3" height="3"><feGaussianBlur stdDeviation="2.2"/></filter>
<filter id="bl2" x="-1" y="-1" width="3" height="3"><feGaussianBlur stdDeviation="2.2"/></filter>
</defs>
<g id="pa"><rect x="234.6" y="25.2" width="660.5" height="652.2" fill="#e0e0e0"/><g clip-path="url(#ka)"><g filter="url(#na)"><rect x="213.5" y="2" width="702" height="701" fill="url(#ga)"/></g><g filter="url(#bl)"><ellipse cx="638.24" cy="497.07" rx="5.05" ry="5.86" fill="#00afce" opacity="0.85"/><ellipse cx="487.58" cy="573.07" rx="4.65" ry="4.69" fill="#fdb92c" opacity="0.85"/><ellipse cx="394.54" cy="219.69" rx="5.09" ry="5.55" fill="#fed31d" opacity="0.85"/><ellipse cx="634.97" cy="128.02" rx="3.51" ry="5.06" fill="#00acd3" opacity="0.85"/><ellipse cx="364.39" cy="240.19" rx="4.86" ry="5.49" fill="#01b1c9" opacity="0.85"/><ellipse cx="829.09" cy="466.39" rx="4.22" ry="4.65" fill="#fecf21" opacity="0.85"/><ellipse cx="445.32" cy="413.87" rx="4.92" ry="5.12" fill="#0177ff" opacity="0.85"/><ellipse cx="477.71" cy="235.64" rx="4.45" ry="4.93" fill="#0082fb" opacity="0.85"/><ellipse cx="834.03" cy="266.59" rx="5.08" ry="6.27" fill="#00add0" opacity="0.85"/><ellipse cx="829.73" cy="258.63" rx="4" ry="5.11" fill="#85cc3f" opacity="0.85"/><ellipse cx="618.36" cy="520.59" rx="3.57" ry="5.52" fill="#00add0" opacity="0.85"/><ellipse cx="319.21" cy="256.44" rx="4.18" ry="6.53" fill="#05bfb5" opacity="0.85"/><ellipse cx="591.59" cy="239.47" rx="5.1" ry="7.15" fill="#00cb84" opacity="0.85"/><ellipse cx="697.18" cy="237.58" rx="3.6" ry="5.65" fill="#d7c618" opacity="0.85"/><ellipse cx="584.62" cy="295.53" rx="4.19" ry="4.83" fill="#00a3e1" opacity="0.85"/><ellipse cx="655.08" cy="139.38" rx="4.17" ry="4.69" fill="#06b6c0" opacity="0.85"/><ellipse cx="853.28" cy="390.43" rx="5.08" ry="5.42" fill="#00ca8e" opacity="0.85"/><ellipse cx="525.23" cy="141.55" rx="4.41" ry="7.13" fill="#02c4ab" opacity="0.85"/><ellipse cx="536.62" cy="344.9" rx="4.08" ry="5.08" fill="#f8f710" opacity="0.85"/><ellipse cx="352.4" cy="278.2" rx="4.5" ry="5.45" fill="#0276ff" opacity="0.85"/><ellipse cx="317.98" cy="215.39" rx="5.09" ry="6.25" fill="#faba24" opacity="0.85"/><ellipse cx="616.99" cy="72.59" rx="4.91" ry="5.79" fill="#00add1" opacity="0.85"/><ellipse cx="555.91" cy="513.85" rx="4.18" ry="4.63" fill="#ffc02c" opacity="0.85"/><ellipse cx="775.59" cy="336.58" rx="4.05" ry="4.75" fill="#00aed0" opacity="0.85"/><ellipse cx="564.71" cy="456.18" rx="4.79" ry="7.02" fill="#02c4aa" opacity="0.85"/><ellipse cx="761.41" cy="262.03" rx="4.88" ry="7.9" fill="#00acd3" opacity="0.85"/><ellipse cx="838.41" cy="362.88" rx="4.22" ry="6.43" fill="#0082fa" opacity="0.85"/><ellipse cx="434.21" cy="99.3" rx="5.06" ry="6.95" fill="#eebf17" opacity="0.85"/><ellipse cx="663.83" cy="304.48" rx="3.56" ry="3.88" fill="#26ce58" opacity="0.85"/><ellipse cx="529.14" cy="442.07" rx="3.86" ry="5.51" fill="#07d05b" opacity="0.85"/><ellipse cx="554.1" cy="380.99" rx="4.26" ry="5.86" fill="#79cc46" opacity="0.85"/><ellipse cx="618.6" cy="194.71" rx="4.31" ry="5.05" fill="#00abd4" opacity="0.85"/><ellipse cx="510.53" cy="121.04" rx="4.6" ry="5.47" fill="#fae910" opacity="0.85"/><ellipse cx="441.67" cy="359.59" rx="5.14" ry="6.52" fill="#01c6a5" opacity="0.85"/><ellipse cx="752.29" cy="437.38" rx="3.81" ry="4.68" fill="#008ff4" opacity="0.85"/><ellipse cx="550.72" cy="171.49" rx="4.2" ry="6.49" fill="#009ce8" opacity="0.85"/><ellipse cx="603.99" cy="421.1" rx="5.25" ry="7.17" fill="#04c0b4" opacity="0.85"/><ellipse cx="522.02" cy="638.01" rx="5.44" ry="6.8" fill="#0277ff" opacity="0.85"/><ellipse cx="621.99" cy="207.89" rx="4.33" ry="5.18" fill="#04ce67" opacity="0.85"/><ellipse cx="855.07" cy="347.05" rx="3.55" ry="4.89" fill="#007efc" opacity="0.85"/><ellipse cx="499.93" cy="340.18" rx="4.45" ry="4.55" fill="#08d059" opacity="0.85"/><ellipse cx="558.57" cy="558.35" rx="4.72" ry="6.13" fill="#00a8da" opacity="0.85"/><ellipse cx="651.43" cy="414.31" rx="3.75" ry="4.37" fill="#0092f2" opacity="0.85"/><ellipse cx="689.32" cy="420.14" rx="4.22" ry="6.14" fill="#04b4c4" opacity="0.85"/><ellipse cx="618.98" cy="73.86" rx="4.87" ry="5.2" fill="#01b1ca" opacity="0.85"/><ellipse cx="676.95" cy="166.71" rx="4.36" ry="5.9" fill="#f3bd18" opacity="0.85"/><ellipse cx="689.41" cy="431.34" rx="5.18" ry="6.77" fill="#07b7bd" opacity="0.85"/><ellipse cx="673.9" cy="483.77" rx="5.02" ry="5.99" fill="#008af7" opacity="0.85"/><ellipse cx="613.77" cy="441.04" rx="3.79" ry="4.85" fill="#f9e910" opacity="0.85"/><ellipse cx="593.96" cy="350.61" rx="4.35" ry="5.8" fill="#7dcc44" opacity="0.85"/><ellipse cx="424.82" cy="103.12" rx="3.55" ry="5.03" fill="#55cc53" opacity="0.85"/><ellipse cx="685.25" cy="81.34" rx="4.79" ry="7.68" fill="#0078ff" opacity="0.85"/><ellipse cx="691.97" cy="132.78" rx="4.38" ry="4.87" fill="#07cf5d" opacity="0.85"/><ellipse cx="375.67" cy="533.23" rx="3.59" ry="3.81" fill="#00c8a1" opacity="0.85"/><ellipse cx="492.02" cy="95.2" rx="3.74" ry="4.61" fill="#02c4aa" opacity="0.85"/><ellipse cx="319.36" cy="463.29" rx="5.38" ry="6.69" fill="#00a2e2" opacity="0.85"/><ellipse cx="297.95" cy="470.38" rx="4.86" ry="5.75" fill="#0099eb" opacity="0.85"/><ellipse cx="829.68" cy="381.93" rx="4.6" ry="5.34" fill="#0097ed" opacity="0.85"/><ellipse cx="714.85" cy="362.2" rx="5.23" ry="6.76" fill="#432dc6" opacity="0.85"/><ellipse cx="497.84" cy="130.71" rx="3.67" ry="5.1" fill="#007afe" opacity="0.85"/><ellipse cx="620.88" cy="195.15" rx="4.15" ry="6.15" fill="#03c2b0" opacity="0.85"/><ellipse cx="835.72" cy="460.67" rx="3.67" ry="5.61" fill="#0090f4" opacity="0.85"/><ellipse cx="559.37" cy="178.9" rx="3.97" ry="4.76" fill="#007bfd" opacity="0.85"/><ellipse cx="632.75" cy="261.2" rx="4.95" ry="6.08" fill="#03c2af" opacity="0.85"/><ellipse cx="442.05" cy="430.8" rx="4.69" ry="6.38" fill="#fae910" opacity="0.85"/><ellipse cx="708.6" cy="289.31" rx="3.87" ry="4.32" fill="#b5ca27" opacity="0.85"/><ellipse cx="558.52" cy="614.27" rx="4.44" ry="6.89" fill="#4355fb" opacity="0.85"/><ellipse cx="636.18" cy="309.19" rx="3.88" ry="5.39" fill="#9ccc32" opacity="0.85"/><ellipse cx="785.85" cy="333.8" rx="5.14" ry="7.62" fill="#0099eb" opacity="0.85"/><ellipse cx="802.31" cy="258.58" rx="3.62" ry="3.66" fill="#dfc415" opacity="0.85"/><ellipse cx="538.49" cy="561.28" rx="4.84" ry="5.73" fill="#432dc6" opacity="0.85"/><ellipse cx="669.18" cy="489.58" rx="4.93" ry="6.74" fill="#3e5afb" opacity="0.85"/><ellipse cx="658.38" cy="422.55" rx="3.87" ry="4.7" fill="#8dcc3b" opacity="0.85"/><ellipse cx="545.32" cy="517.51" rx="5.38" ry="7.64" fill="#4157fc" opacity="0.85"/><ellipse cx="522.89" cy="637.26" rx="4.41" ry="6.26" fill="#0088f8" opacity="0.85"/><ellipse cx="765.82" cy="554.36" rx="4.93" ry="5.68" fill="#00acd2" opacity="0.85"/><ellipse cx="547.26" cy="461.67" rx="5.06" ry="5.22" fill="#00c994" opacity="0.85"/><ellipse cx="764.56" cy="319.53" rx="5.4" ry="6.08" fill="#adcb2a" opacity="0.85"/><ellipse cx="681.94" cy="436.33" rx="3.67" ry="4.34" fill="#00b0cc" opacity="0.85"/><ellipse cx="329.29" cy="377.16" rx="5.21" ry="5.94" fill="#00a8da" opacity="0.85"/><ellipse cx="274.94" cy="375.78" rx="5.04" ry="6.72" fill="#6acc4f" opacity="0.85"/><ellipse cx="718.21" cy="465.16" rx="3.78" ry="4.85" fill="#0092f2" opacity="0.85"/><ellipse cx="732.44" cy="210.09" rx="3.76" ry="3.94" fill="#c4c921" opacity="0.85"/><ellipse cx="411.41" cy="102.59" rx="4.83" ry="5.68" fill="#00ca8a" opacity="0.85"/><ellipse cx="560.1" cy="201.27" rx="5.27" ry="8.29" fill="#00a4e0" opacity="0.85"/><ellipse cx="492.42" cy="513.56" rx="4.81" ry="7.12" fill="#08b8bc" opacity="0.85"/><ellipse cx="609.34" cy="317.31" rx="4.9" ry="5.74" fill="#00cc78" opacity="0.85"/><ellipse cx="751.75" cy="281.44" rx="4.11" ry="4.45" fill="#05b5c3" opacity="0.85"/><ellipse cx="563.13" cy="245.93" rx="5.03" ry="6.82" fill="#4024b2" opacity="0.85"/><ellipse cx="342.57" cy="266.29" rx="4.72" ry="5.41" fill="#0097ed" opacity="0.85"/><ellipse cx="597.1" cy="130.6" rx="6.5" ry="7.5" fill="#f6ea18"/><ellipse cx="632.7" cy="154.3" rx="6.5" ry="8.5" fill="#f2aa30"/><ellipse cx="496.5" cy="201.7" rx="5.5" ry="6.5" fill="#f6ea18"/><ellipse cx="431.4" cy="221.4" rx="6.5" ry="6.5" fill="#f2aa30"/><ellipse cx="553.7" cy="322" rx="6.5" ry="8.5" fill="#f6ea18"/><ellipse cx="411.7" cy="381.2" rx="7.5" ry="8.5" fill="#f6ea18"/><ellipse cx="397.9" cy="404.9" rx="7.5" ry="8.5" fill="#f6ea18"/><ellipse cx="328.8" cy="489.7" rx="5.5" ry="7.5" fill="#f6ea18"/><ellipse cx="534" cy="519.3" rx="6.5" ry="9.5" fill="#f6ea18"/><ellipse cx="585.3" cy="568.7" rx="6.5" ry="8.5" fill="#f2aa30"/><ellipse cx="597.1" cy="608.1" rx="6.5" ry="8.5" fill="#f6ea18"/><ellipse cx="642.5" cy="643.7" rx="7.5" ry="6.5" fill="#f6ea18"/><ellipse cx="609" cy="651.5" rx="7.5" ry="6.5" fill="#f6ea18"/><ellipse cx="808.3" cy="452" rx="8.5" ry="13.5" fill="#f6ea18"/><ellipse cx="812" cy="474" rx="7.5" ry="9.5" fill="#f6ea18"/><ellipse cx="800.4" cy="191.8" rx="6.5" ry="7.5" fill="#1a70f0"/><ellipse cx="778.7" cy="255" rx="6.5" ry="12.5" fill="#3034c0"/><ellipse cx="735.3" cy="243.1" rx="6.5" ry="6.5" fill="#12b89c"/><ellipse cx="565.6" cy="397" rx="5.5" ry="12.5" fill="#3034c0"/><ellipse cx="636.6" cy="397" rx="6.5" ry="6.5" fill="#3034c0"/><ellipse cx="480.7" cy="377.3" rx="6.5" ry="6.5" fill="#3034c0"/><ellipse cx="575.4" cy="335.8" rx="5.5" ry="6.5" fill="#3034c0"/><ellipse cx="833.9" cy="379.2" rx="6.5" ry="7.5" fill="#1a70f0"/><ellipse cx="545.8" cy="489.7" rx="6.5" ry="10.5" fill="#1a70f0"/><ellipse cx="492.6" cy="535.1" rx="6.5" ry="10.5" fill="#3034c0"/><ellipse cx="739.2" cy="537.1" rx="6.5" ry="8.5" fill="#3034c0"/><ellipse cx="766.8" cy="402.9" rx="5.5" ry="5.5" fill="#18a4e4"/><ellipse cx="674.1" cy="75.4" rx="5.5" ry="6.5" fill="#18a4e4"/><ellipse cx="317" cy="223.4" rx="5.5" ry="5.5" fill="#a8a428"/><ellipse cx="354.4" cy="174" rx="5.5" ry="8.5" fill="#a8a428"/><ellipse cx="753" cy="178" rx="6.5" ry="6.5" fill="#f2aa30"/><ellipse cx="622.8" cy="322" rx="5.5" ry="5.5" fill="#f2aa30"/><ellipse cx="784.6" cy="554.9" rx="6.5" ry="6.5" fill="#20c868"/><ellipse cx="707.6" cy="324" rx="6.5" ry="6.5" fill="#12b89c"/><ellipse cx="812.2" cy="302.3" rx="5.5" ry="6.5" fill="#18a4e4"/><ellipse cx="303.1" cy="345.7" rx="5.5" ry="7.5" fill="#1a70f0"/><ellipse cx="612.9" cy="284.5" rx="5.5" ry="6.5" fill="#20c868"/><ellipse cx="468.9" cy="337.8" rx="5.5" ry="6.5" fill="#1a70f0"/><ellipse cx="560" cy="106" rx="5.5" ry="6.5" fill="#18a4e4"/><ellipse cx="700" cy="166" rx="5.5" ry="6.5" fill="#1a70f0"/><ellipse cx="455" cy="300" rx="5.5" ry="6.5" fill="#1a70f0"/><ellipse cx="655" cy="478" rx="6.5" ry="6.5" fill="#20c868"/><ellipse cx="690" cy="600" rx="5.5" ry="7.5" fill="#1a70f0"/><ellipse cx="745" cy="470" rx="5.5" ry="6.5" fill="#1a70f0"/><ellipse cx="350" cy="560" rx="6.5" ry="7.5" fill="#1a70f0"/><ellipse cx="520" cy="640" rx="5.5" ry="5.5" fill="#12b89c"/></g></g><rect x="230.3" y="25.2" width="5.3" height="657.5"/><rect x="216.3" y="676.4" width="678.8" height="6.3"/><rect x="216.3" y="25.2" width="15" height="6"/><rect x="216.3" y="343.1" width="15" height="6.2"/><rect x="230.3" y="677.4" width="5.6" height="19.5"/><rect x="555.9" y="677.4" width="5.6" height="19.5"/><rect x="889.5" y="677.4" width="5.6" height="19.5"/><g transform="translate(89.18 70.89) scale(1.0000 1.0200)"><text font-size="69.4" stroke="#fff" stroke-width="0.5"><tspan dx="2.29">1</tspan><tspan dx="-2.29">50</tspan></text><rect x="3.79" y="-7.68" width="15.96" height="9.68" fill="#fff"/><rect x="25.88" y="-7.68" width="13.12" height="9.68" fill="#fff"/></g><g transform="translate(127.87 377.19) scale(1.0000 1.0200)"><text font-size="69.4" stroke="#fff" stroke-width="0.5">50</text></g><g transform="translate(166.39 694.69) scale(1.0000 1.0200)"><text font-size="69.4" stroke="#fff" stroke-width="0.5">0</text></g><g transform="translate(213.75 752.19) scale(1.0000 1.0200)"><text font-size="69.4" stroke="#fff" stroke-width="0.5">0</text></g><g transform="translate(520.2 752.19) scale(1.0000 1.0200)"><text font-size="69.4" stroke="#fff" stroke-width="0.5">50</text></g><g transform="translate(832.56 752.19) scale(1.0000 1.0200)"><text font-size="69.4" stroke="#fff" stroke-width="0.5"><tspan dx="2.29">1</tspan><tspan dx="-2.29">50</tspan></text><rect x="3.79" y="-7.68" width="15.96" height="9.68" fill="#fff"/><rect x="25.88" y="-7.68" width="13.12" height="9.68" fill="#fff"/></g><text transform="translate(451.99 832.88) scale(0.8028 0.8114)" font-size="100" stroke="#fff" stroke-width="1.24">X, μm</text><text transform="translate(78.45 450.47) rotate(-90) scale(0.7872 0.8589)" font-size="100" stroke="#fff" stroke-width="1.22">Y,</text><text transform="translate(80.66 344.9) rotate(-90) scale(0.8736 0.7556)" font-size="100" stroke="#fff" stroke-width="1.23">μ</text><text transform="translate(78.7 297.64) rotate(-90) scale(0.7914 0.8130)" font-size="100" stroke="#fff" stroke-width="1.25">m</text><rect x="908.8" y="47.9" width="54.9" height="623" fill="url(#cb)"/><rect x="909.5" y="48.6" width="53.5" height="621.6" fill="none" stroke="#000" stroke-opacity="0.3" stroke-width="1.5"/><rect x="959.6" y="47.6" width="17.2" height="5.6"/><rect x="959.6" y="201.5" width="17.2" height="5.6"/><rect x="959.6" y="357.8" width="17.2" height="5.6"/><rect x="959.6" y="513.7" width="17.2" height="5.6"/><rect x="959.6" y="665.4" width="17.2" height="5.6"/><g transform="translate(989.43 75.4) scale(1.0000 1.0200)"><text font-size="69.4" stroke="#fff" stroke-width="0.5"><tspan dx="2.29">1</tspan></text><rect x="3.79" y="-7.68" width="15.96" height="9.68" fill="#fff"/><rect x="25.88" y="-7.68" width="13.12" height="9.68" fill="#fff"/></g><g transform="translate(995.62 226.19) scale(1.0000 1.0200)"><text font-size="69.4" stroke="#fff" stroke-width="0.5">0.5</text></g><g transform="translate(995.62 385.09) scale(1.0000 1.0200)"><text font-size="69.4" stroke="#fff" stroke-width="0.5">0</text></g><g transform="translate(995.28 535.89) scale(1.0000 1.0200)"><text font-size="69.4" stroke="#fff" stroke-width="0.5">-0.5</text></g><g transform="translate(995.28 682.6) scale(1.0000 1.0200)"><text font-size="69.4" stroke="#fff" stroke-width="0.5">-<tspan dx="2.29">1</tspan></text><rect x="26.9" y="-7.68" width="15.96" height="9.68" fill="#fff"/><rect x="48.99" y="-7.68" width="13.12" height="9.68" fill="#fff"/></g><text transform="translate(1177.53 458.81) rotate(-90) scale(0.7670 0.8322)" font-size="100" stroke="#fff" stroke-width="1.25">sin(</text><text transform="translate(1178 333.26) rotate(-90) scale(0.7210 0.7884)" font-size="100" stroke="#fff" stroke-width="1.33">Δ</text><text transform="translate(1178.42 282.96) rotate(-90) scale(0.7150 0.7893)" font-size="100" stroke="#fff" stroke-width="1.33">ϕ</text><text transform="translate(1177.53 238.12) rotate(-90) scale(0.6943 0.8322)" font-size="100" stroke="#fff" stroke-width="1.31">)</text><text transform="translate(34.77 776.03) scale(0.8364 0.8032)" font-size="100" stroke="#fff" stroke-width="1.22">(a)</text></g>
<g id="pb"><rect x="1420.7" y="20.4" width="660.5" height="654.6" fill="#e0e0e0"/><g clip-path="url(#kb)"><g filter="url(#nb)"><rect x="1399.6" y="2" width="702" height="698.6" fill="url(#gb)"/></g><g filter="url(#bl2)" stroke-width="7" stroke-linecap="round"><line x1="1664.41" y1="384.27" x2="1667.79" y2="391.53" stroke="#3a2cb4"/><line x1="1713.7" y1="287.44" x2="1717.7" y2="294.36" stroke="#3a2cb4"/><line x1="1781.8" y1="365.94" x2="1785.8" y2="372.86" stroke="#3a2cb4"/><line x1="1857.91" y1="327.72" x2="1862.49" y2="334.28" stroke="#1a70f0"/><line x1="1973.33" y1="283.64" x2="1978.47" y2="289.76" stroke="#3a2cb4"/><line x1="1919.63" y1="358.04" x2="1924.77" y2="364.16" stroke="#3a2cb4"/><line x1="1732.2" y1="405.14" x2="1736.2" y2="412.06" stroke="#3a2cb4"/><line x1="1759.1" y1="382.44" x2="1763.1" y2="389.36" stroke="#3a2cb4"/><line x1="1907.51" y1="498.22" x2="1912.09" y2="504.78" stroke="#3a2cb4"/><line x1="1672.71" y1="613.57" x2="1676.09" y2="620.83" stroke="#3a2cb4"/><line x1="1606.93" y1="427.54" x2="1609.67" y2="435.06" stroke="#1a70f0"/><line x1="1932.03" y1="341.54" x2="1937.17" y2="347.66" stroke="#f6ea18"/><line x1="1541.16" y1="468.74" x2="1543.24" y2="476.46" stroke="#f6ea18"/><line x1="1680.91" y1="530.97" x2="1684.29" y2="538.23" stroke="#f6ea18"/><line x1="1717.92" y1="547.57" x2="1721.68" y2="554.63" stroke="#f6ea18"/><line x1="1804.38" y1="564.21" x2="1808.62" y2="570.99" stroke="#f6ea18"/><line x1="1850.71" y1="318.72" x2="1855.29" y2="325.28" stroke="#f2aa30"/><line x1="1573.83" y1="126.04" x2="1576.57" y2="133.56" stroke="#f2aa30"/><line x1="2001.97" y1="457.37" x2="2007.63" y2="463.03" stroke="#3a2cb4"/><line x1="1588.63" y1="556.24" x2="1591.37" y2="563.76" stroke="#3a2cb4"/><line x1="1847.71" y1="606.72" x2="1852.29" y2="613.28" stroke="#3a2cb4"/><line x1="1777.88" y1="211.61" x2="1782.12" y2="218.39" stroke="#f6ea18"/></g></g><rect x="1416.4" y="20.4" width="5.3" height="659.9"/><rect x="1402.4" y="674" width="678.8" height="6.3"/><rect x="1402.4" y="20.4" width="15" height="6"/><rect x="1402.4" y="340.7" width="15" height="6.2"/><rect x="1416.4" y="675" width="5.6" height="19.5"/><rect x="1742" y="675" width="5.6" height="19.5"/><rect x="2075.6" y="675" width="5.6" height="19.5"/><g transform="translate(1277.28 68.49) scale(1.0000 1.0200)"><text font-size="69.4" stroke="#fff" stroke-width="0.5"><tspan dx="2.29">1</tspan><tspan dx="-2.29">50</tspan></text><rect x="3.79" y="-7.68" width="15.96" height="9.68" fill="#fff"/><rect x="25.88" y="-7.68" width="13.12" height="9.68" fill="#fff"/></g><g transform="translate(1315.97 374.79) scale(1.0000 1.0200)"><text font-size="69.4" stroke="#fff" stroke-width="0.5">50</text></g><g transform="translate(1354.49 692.29) scale(1.0000 1.0200)"><text font-size="69.4" stroke="#fff" stroke-width="0.5">0</text></g><g transform="translate(1399.85 749.79) scale(1.0000 1.0200)"><text font-size="69.4" stroke="#fff" stroke-width="0.5">0</text></g><g transform="translate(1706.3 749.79) scale(1.0000 1.0200)"><text font-size="69.4" stroke="#fff" stroke-width="0.5">50</text></g><g transform="translate(2018.66 749.79) scale(1.0000 1.0200)"><text font-size="69.4" stroke="#fff" stroke-width="0.5"><tspan dx="2.29">1</tspan><tspan dx="-2.29">50</tspan></text><rect x="3.79" y="-7.68" width="15.96" height="9.68" fill="#fff"/><rect x="25.88" y="-7.68" width="13.12" height="9.68" fill="#fff"/></g><text transform="translate(1638.09 830.48) scale(0.8028 0.8114)" font-size="100" stroke="#fff" stroke-width="1.24">X, μm</text><text transform="translate(1264.55 448.07) rotate(-90) scale(0.7872 0.8589)" font-size="100" stroke="#fff" stroke-width="1.22">Y,</text><text transform="translate(1266.76 342.5) rotate(-90) scale(0.8736 0.7556)" font-size="100" stroke="#fff" stroke-width="1.23">μ</text><text transform="translate(1264.8 295.24) rotate(-90) scale(0.7914 0.8130)" font-size="100" stroke="#fff" stroke-width="1.25">m</text><rect x="2094.9" y="45.5" width="54.9" height="623" fill="url(#cb)"/><rect x="2095.6" y="46.2" width="53.5" height="621.6" fill="none" stroke="#000" stroke-opacity="0.3" stroke-width="1.5"/><rect x="2145.7" y="45.2" width="17.2" height="5.6"/><rect x="2145.7" y="199.1" width="17.2" height="5.6"/><rect x="2145.7" y="355.4" width="17.2" height="5.6"/><rect x="2145.7" y="511.3" width="17.2" height="5.6"/><rect x="2145.7" y="663" width="17.2" height="5.6"/><g transform="translate(2175.53 73) scale(1.0000 1.0200)"><text font-size="69.4" stroke="#fff" stroke-width="0.5"><tspan dx="2.29">1</tspan></text><rect x="3.79" y="-7.68" width="15.96" height="9.68" fill="#fff"/><rect x="25.88" y="-7.68" width="13.12" height="9.68" fill="#fff"/></g><g transform="translate(2181.72 223.79) scale(1.0000 1.0200)"><text font-size="69.4" stroke="#fff" stroke-width="0.5">0.5</text></g><g transform="translate(2181.72 382.69) scale(1.0000 1.0200)"><text font-size="69.4" stroke="#fff" stroke-width="0.5">0</text></g><g transform="translate(2181.38 533.49) scale(1.0000 1.0200)"><text font-size="69.4" stroke="#fff" stroke-width="0.5">-0.5</text></g><g transform="translate(2181.38 680.2) scale(1.0000 1.0200)"><text font-size="69.4" stroke="#fff" stroke-width="0.5">-<tspan dx="2.29">1</tspan></text><rect x="26.9" y="-7.68" width="15.96" height="9.68" fill="#fff"/><rect x="48.99" y="-7.68" width="13.12" height="9.68" fill="#fff"/></g><text transform="translate(2363.63 456.41) rotate(-90) scale(0.7670 0.8322)" font-size="100" stroke="#fff" stroke-width="1.25">sin(</text><text transform="translate(2364.1 330.86) rotate(-90) scale(0.7210 0.7884)" font-size="100" stroke="#fff" stroke-width="1.33">Δ</text><text transform="translate(2364.52 280.56) rotate(-90) scale(0.7150 0.7893)" font-size="100" stroke="#fff" stroke-width="1.33">ϕ</text><text transform="translate(2363.63 235.72) rotate(-90) scale(0.6943 0.8322)" font-size="100" stroke="#fff" stroke-width="1.31">)</text><text transform="translate(1226.76 776.03) scale(0.8382 0.8032)" font-size="100" stroke="#fff" stroke-width="1.22">(b)</text></g>
<g id="pc"><rect x="233" y="898.4" width="660.5" height="653.4" fill="#e0e0e0"/><g clip-path="url(#kc)"><g filter="url(#nc)"><rect x="211.9" y="875.4" width="702" height="702" fill="url(#gc)"/></g><!--blobs-c--></g><rect x="228.7" y="898.4" width="5.3" height="658.7"/><rect x="214.7" y="1550.8" width="678.8" height="6.3"/><rect x="214.7" y="898.4" width="15" height="6"/><rect x="214.7" y="1217.5" width="15" height="6.2"/><rect x="228.7" y="1551.8" width="5.6" height="19.5"/><rect x="554.3" y="1551.8" width="5.6" height="19.5"/><rect x="887.9" y="1551.8" width="5.6" height="19.5"/><g transform="translate(87.58 945.29) scale(1.0000 1.0200)"><text font-size="69.4" stroke="#fff" stroke-width="0.5"><tspan dx="2.29">1</tspan><tspan dx="-2.29">50</tspan></text><rect x="3.79" y="-7.68" width="15.96" height="9.68" fill="#fff"/><rect x="25.88" y="-7.68" width="13.12" height="9.68" fill="#fff"/></g><g transform="translate(126.27 1251.59) scale(1.0000 1.0200)"><text font-size="69.4" stroke="#fff" stroke-width="0.5">50</text></g><g transform="translate(164.79 1569.09) scale(1.0000 1.0200)"><text font-size="69.4" stroke="#fff" stroke-width="0.5">0</text></g><g transform="translate(212.15 1626.59) scale(1.0000 1.0200)"><text font-size="69.4" stroke="#fff" stroke-width="0.5">0</text></g><g transform="translate(518.6 1626.59) scale(1.0000 1.0200)"><text font-size="69.4" stroke="#fff" stroke-width="0.5">50</text></g><g transform="translate(830.96 1626.59) scale(1.0000 1.0200)"><text font-size="69.4" stroke="#fff" stroke-width="0.5"><tspan dx="2.29">1</tspan><tspan dx="-2.29">50</tspan></text><rect x="3.79" y="-7.68" width="15.96" height="9.68" fill="#fff"/><rect x="25.88" y="-7.68" width="13.12" height="9.68" fill="#fff"/></g><text transform="translate(450.39 1707.28) scale(0.8028 0.8114)" font-size="100" stroke="#fff" stroke-width="1.24">X, μm</text><text transform="translate(76.85 1324.87) rotate(-90) scale(0.7872 0.8589)" font-size="100" stroke="#fff" stroke-width="1.22">Y,</text><text transform="translate(79.06 1219.3) rotate(-90) scale(0.8736 0.7556)" font-size="100" stroke="#fff" stroke-width="1.23">μ</text><text transform="translate(77.1 1172.04) rotate(-90) scale(0.7914 0.8130)" font-size="100" stroke="#fff" stroke-width="1.25">m</text><rect x="907.2" y="922.3" width="54.9" height="623" fill="url(#cb)"/><rect x="907.9" y="923" width="53.5" height="621.6" fill="none" stroke="#000" stroke-opacity="0.3" stroke-width="1.5"/><rect x="958" y="922" width="17.2" height="5.6"/><rect x="958" y="1075.9" width="17.2" height="5.6"/><rect x="958" y="1232.2" width="17.2" height="5.6"/><rect x="958" y="1388.1" width="17.2" height="5.6"/><rect x="958" y="1539.8" width="17.2" height="5.6"/><g transform="translate(987.83 949.8) scale(1.0000 1.0200)"><text font-size="69.4" stroke="#fff" stroke-width="0.5"><tspan dx="2.29">1</tspan></text><rect x="3.79" y="-7.68" width="15.96" height="9.68" fill="#fff"/><rect x="25.88" y="-7.68" width="13.12" height="9.68" fill="#fff"/></g><g transform="translate(994.02 1100.59) scale(1.0000 1.0200)"><text font-size="69.4" stroke="#fff" stroke-width="0.5">0.5</text></g><g transform="translate(994.02 1259.49) scale(1.0000 1.0200)"><text font-size="69.4" stroke="#fff" stroke-width="0.5">0</text></g><g transform="translate(993.68 1410.29) scale(1.0000 1.0200)"><text font-size="69.4" stroke="#fff" stroke-width="0.5">-0.5</text></g><g transform="translate(993.68 1557) scale(1.0000 1.0200)"><text font-size="69.4" stroke="#fff" stroke-width="0.5">-<tspan dx="2.29">1</tspan></text><rect x="26.9" y="-7.68" width="15.96" height="9.68" fill="#fff"/><rect x="48.99" y="-7.68" width="13.12" height="9.68" fill="#fff"/></g><text transform="translate(1175.93 1333.21) rotate(-90) scale(0.7670 0.8322)" font-size="100" stroke="#fff" stroke-width="1.25">sin(</text><text transform="translate(1176.4 1207.66) rotate(-90) scale(0.7210 0.7884)" font-size="100" stroke="#fff" stroke-width="1.33">Δ</text><text transform="translate(1176.82 1157.36) rotate(-90) scale(0.7150 0.7893)" font-size="100" stroke="#fff" stroke-width="1.33">ϕ</text><text transform="translate(1175.93 1112.52) rotate(-90) scale(0.6943 0.8322)" font-size="100" stroke="#fff" stroke-width="1.31">)</text><text transform="translate(34.71 1695.46) scale(0.8460 0.8021)" font-size="100" stroke="#fff" stroke-width="1.21">(c)</text></g>
<g id="pd"><rect x="1412.2" y="887.9" width="660.5" height="653.9" fill="#e0e0e0"/><g clip-path="url(#kd)"><g filter="url(#nd)"><rect x="1391.1" y="865.4" width="702" height="702" fill="url(#gd)"/></g><!--blobs-d--></g><rect x="1407.9" y="887.9" width="5.3" height="659.2"/><rect x="1393.9" y="1540.8" width="678.8" height="6.3"/><rect x="1393.9" y="887.9" width="15" height="6"/><rect x="1393.9" y="1207.5" width="15" height="6.2"/><rect x="1407.9" y="1541.8" width="5.6" height="19.5"/><rect x="1733.5" y="1541.8" width="5.6" height="19.5"/><rect x="2067.1" y="1541.8" width="5.6" height="19.5"/><g transform="translate(1268.78 935.29) scale(1.0000 1.0200)"><text font-size="69.4" stroke="#fff" stroke-width="0.5"><tspan dx="2.29">1</tspan><tspan dx="-2.29">50</tspan></text><rect x="3.79" y="-7.68" width="15.96" height="9.68" fill="#fff"/><rect x="25.88" y="-7.68" width="13.12" height="9.68" fill="#fff"/></g><g transform="translate(1307.47 1241.59) scale(1.0000 1.0200)"><text font-size="69.4" stroke="#fff" stroke-width="0.5">50</text></g><g transform="translate(1345.99 1559.09) scale(1.0000 1.0200)"><text font-size="69.4" stroke="#fff" stroke-width="0.5">0</text></g><g transform="translate(1391.35 1616.59) scale(1.0000 1.0200)"><text font-size="69.4" stroke="#fff" stroke-width="0.5">0</text></g><g transform="translate(1697.8 1616.59) scale(1.0000 1.0200)"><text font-size="69.4" stroke="#fff" stroke-width="0.5">50</text></g><g transform="translate(2010.16 1616.59) scale(1.0000 1.0200)"><text font-size="69.4" stroke="#fff" stroke-width="0.5"><tspan dx="2.29">1</tspan><tspan dx="-2.29">50</tspan></text><rect x="3.79" y="-7.68" width="15.96" height="9.68" fill="#fff"/><rect x="25.88" y="-7.68" width="13.12" height="9.68" fill="#fff"/></g><text transform="translate(1629.59 1697.28) scale(0.8028 0.8114)" font-size="100" stroke="#fff" stroke-width="1.24">X, μm</text><text transform="translate(1256.05 1314.87) rotate(-90) scale(0.7872 0.8589)" font-size="100" stroke="#fff" stroke-width="1.22">Y,</text><text transform="translate(1258.26 1209.3) rotate(-90) scale(0.8736 0.7556)" font-size="100" stroke="#fff" stroke-width="1.23">μ</text><text transform="translate(1256.3 1162.04) rotate(-90) scale(0.7914 0.8130)" font-size="100" stroke="#fff" stroke-width="1.25">m</text><rect x="2086.4" y="912.3" width="54.9" height="623" fill="url(#cb)"/><rect x="2087.1" y="913" width="53.5" height="621.6" fill="none" stroke="#000" stroke-opacity="0.3" stroke-width="1.5"/><rect x="2137.2" y="912" width="17.2" height="5.6"/><rect x="2137.2" y="1065.9" width="17.2" height="5.6"/><rect x="2137.2" y="1222.2" width="17.2" height="5.6"/><rect x="2137.2" y="1378.1" width="17.2" height="5.6"/><rect x="2137.2" y="1529.8" width="17.2" height="5.6"/><g transform="translate(2167.03 939.8) scale(1.0000 1.0200)"><text font-size="69.4" stroke="#fff" stroke-width="0.5"><tspan dx="2.29">1</tspan></text><rect x="3.79" y="-7.68" width="15.96" height="9.68" fill="#fff"/><rect x="25.88" y="-7.68" width="13.12" height="9.68" fill="#fff"/></g><g transform="translate(2173.22 1090.59) scale(1.0000 1.0200)"><text font-size="69.4" stroke="#fff" stroke-width="0.5">0.5</text></g><g transform="translate(2173.22 1249.49) scale(1.0000 1.0200)"><text font-size="69.4" stroke="#fff" stroke-width="0.5">0</text></g><g transform="translate(2172.88 1400.29) scale(1.0000 1.0200)"><text font-size="69.4" stroke="#fff" stroke-width="0.5">-0.5</text></g><g transform="translate(2172.88 1547) scale(1.0000 1.0200)"><text font-size="69.4" stroke="#fff" stroke-width="0.5">-<tspan dx="2.29">1</tspan></text><rect x="26.9" y="-7.68" width="15.96" height="9.68" fill="#fff"/><rect x="48.99" y="-7.68" width="13.12" height="9.68" fill="#fff"/></g><text transform="translate(2355.13 1323.21) rotate(-90) scale(0.7670 0.8322)" font-size="100" stroke="#fff" stroke-width="1.25">sin(</text><text transform="translate(2355.6 1197.66) rotate(-90) scale(0.7210 0.7884)" font-size="100" stroke="#fff" stroke-width="1.33">Δ</text><text transform="translate(2356.02 1147.36) rotate(-90) scale(0.7150 0.7893)" font-size="100" stroke="#fff" stroke-width="1.33">ϕ</text><text transform="translate(2355.13 1102.52) rotate(-90) scale(0.6943 0.8322)" font-size="100" stroke="#fff" stroke-width="1.31">)</text><text transform="translate(1226.76 1695.46) scale(0.8382 0.8021)" font-size="100" stroke="#fff" stroke-width="1.22">(d)</text></g>
</svg>
</body></html>
